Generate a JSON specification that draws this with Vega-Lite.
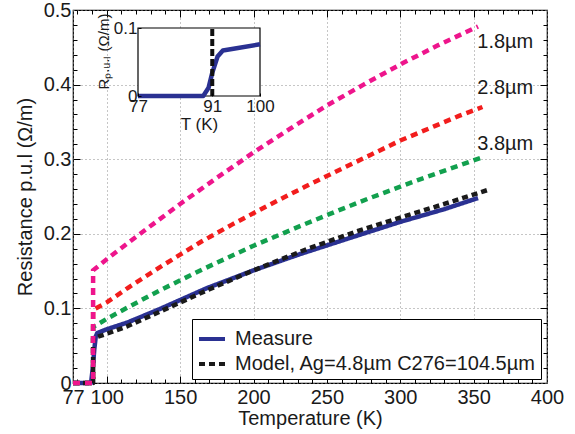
{
  "$schema": "https://vega.github.io/schema/vega-lite/v6.json",
  "width": 474,
  "height": 373,
  "autosize": {"type": "none"},
  "padding": {"left": 73, "top": 10, "right": 28, "bottom": 51},
  "background": "white",
  "config": {
    "font": "Liberation Sans",
    "view": {"stroke": "#000", "strokeWidth": 1.2},
    "axis": {
      "labelFont": "Liberation Sans",
      "titleFont": "Liberation Sans",
      "labelColor": "#1a1a1a",
      "titleColor": "#1a1a1a",
      "titleFontWeight": "normal",
      "labelFlush": false,
      "labelOverlap": false,
      "domain": false,
      "tickColor": "#000",
      "gridColor": "#8c8c8c",
      "gridDash": [1, 3]
    },
    "legend": {"labelFont": "Liberation Sans"}
  },
  "datasets": {
    "curves": [
      {"series": "Measure", "T": 77, "R": 0},
      {"series": "Measure", "T": 89.3, "R": 0},
      {"series": "Measure", "T": 90.5, "R": 0.02},
      {"series": "Measure", "T": 91.5, "R": 0.045},
      {"series": "Measure", "T": 92.5, "R": 0.062},
      {"series": "Measure", "T": 93.5, "R": 0.067},
      {"series": "Measure", "T": 100, "R": 0.072},
      {"series": "Measure", "T": 114, "R": 0.081},
      {"series": "Measure", "T": 136, "R": 0.099},
      {"series": "Measure", "T": 168, "R": 0.127},
      {"series": "Measure", "T": 200, "R": 0.151},
      {"series": "Measure", "T": 232, "R": 0.173},
      {"series": "Measure", "T": 265, "R": 0.194},
      {"series": "Measure", "T": 300, "R": 0.216},
      {"series": "Measure", "T": 330, "R": 0.233},
      {"series": "Measure", "T": 353, "R": 0.248},
      {"series": "Model, Ag=4.8µm C276=104.5µm", "T": 77, "R": 0},
      {"series": "Model, Ag=4.8µm C276=104.5µm", "T": 90.7, "R": 0},
      {"series": "Model, Ag=4.8µm C276=104.5µm", "T": 90.7, "R": 0.06},
      {"series": "Model, Ag=4.8µm C276=104.5µm", "T": 100, "R": 0.066},
      {"series": "Model, Ag=4.8µm C276=104.5µm", "T": 114, "R": 0.076},
      {"series": "Model, Ag=4.8µm C276=104.5µm", "T": 140, "R": 0.099},
      {"series": "Model, Ag=4.8µm C276=104.5µm", "T": 168, "R": 0.124},
      {"series": "Model, Ag=4.8µm C276=104.5µm", "T": 200, "R": 0.151},
      {"series": "Model, Ag=4.8µm C276=104.5µm", "T": 237, "R": 0.18},
      {"series": "Model, Ag=4.8µm C276=104.5µm", "T": 270, "R": 0.203},
      {"series": "Model, Ag=4.8µm C276=104.5µm", "T": 302, "R": 0.223},
      {"series": "Model, Ag=4.8µm C276=104.5µm", "T": 330, "R": 0.24},
      {"series": "Model, Ag=4.8µm C276=104.5µm", "T": 360, "R": 0.259},
      {"series": "1.8µm", "T": 77, "R": 0},
      {"series": "1.8µm", "T": 90.7, "R": 0},
      {"series": "1.8µm", "T": 90.7, "R": 0.151},
      {"series": "1.8µm", "T": 100, "R": 0.166},
      {"series": "1.8µm", "T": 110, "R": 0.181},
      {"series": "1.8µm", "T": 120, "R": 0.196},
      {"series": "1.8µm", "T": 135, "R": 0.218},
      {"series": "1.8µm", "T": 150, "R": 0.24},
      {"series": "1.8µm", "T": 175, "R": 0.275},
      {"series": "1.8µm", "T": 200, "R": 0.309},
      {"series": "1.8µm", "T": 225, "R": 0.341},
      {"series": "1.8µm", "T": 250, "R": 0.372},
      {"series": "1.8µm", "T": 275, "R": 0.4},
      {"series": "1.8µm", "T": 300, "R": 0.427},
      {"series": "1.8µm", "T": 325, "R": 0.452},
      {"series": "1.8µm", "T": 353, "R": 0.478},
      {"series": "2.8µm", "T": 77, "R": 0},
      {"series": "2.8µm", "T": 90.7, "R": 0},
      {"series": "2.8µm", "T": 90.7, "R": 0.098},
      {"series": "2.8µm", "T": 100, "R": 0.108},
      {"series": "2.8µm", "T": 114, "R": 0.127},
      {"series": "2.8µm", "T": 125, "R": 0.141},
      {"series": "2.8µm", "T": 136, "R": 0.155},
      {"series": "2.8µm", "T": 150, "R": 0.172},
      {"series": "2.8µm", "T": 164, "R": 0.189},
      {"series": "2.8µm", "T": 185, "R": 0.212},
      {"series": "2.8µm", "T": 210, "R": 0.238},
      {"series": "2.8µm", "T": 235, "R": 0.263},
      {"series": "2.8µm", "T": 260, "R": 0.287},
      {"series": "2.8µm", "T": 280, "R": 0.306},
      {"series": "2.8µm", "T": 300, "R": 0.325},
      {"series": "2.8µm", "T": 323, "R": 0.344},
      {"series": "2.8µm", "T": 340, "R": 0.358},
      {"series": "2.8µm", "T": 356, "R": 0.37},
      {"series": "3.8µm", "T": 77, "R": 0},
      {"series": "3.8µm", "T": 90.7, "R": 0},
      {"series": "3.8µm", "T": 90.7, "R": 0.075},
      {"series": "3.8µm", "T": 100, "R": 0.086},
      {"series": "3.8µm", "T": 114, "R": 0.101},
      {"series": "3.8µm", "T": 136, "R": 0.124},
      {"series": "3.8µm", "T": 166, "R": 0.153},
      {"series": "3.8µm", "T": 200, "R": 0.184},
      {"series": "3.8µm", "T": 235, "R": 0.213},
      {"series": "3.8µm", "T": 255, "R": 0.229},
      {"series": "3.8µm", "T": 278, "R": 0.247},
      {"series": "3.8µm", "T": 312, "R": 0.272},
      {"series": "3.8µm", "T": 335, "R": 0.288},
      {"series": "3.8µm", "T": 355, "R": 0.302}
    ],
    "labels": [
      {"label": "1.8µm", "T": 352.5, "R": 0.457},
      {"label": "2.8µm", "T": 352.5, "R": 0.396},
      {"label": "3.8µm", "T": 352.5, "R": 0.321}
    ],
    "inset": [
      {"T": 77, "R": 0},
      {"T": 89.3, "R": 0},
      {"T": 90.3, "R": 0.012},
      {"T": 91, "R": 0.034},
      {"T": 92, "R": 0.058},
      {"T": 93, "R": 0.067},
      {"T": 95, "R": 0.0695},
      {"T": 100, "R": 0.076}
    ],
    "tc": [{"Tc": 91}]
  },
  "layer": [
    {
      "resolve": {"axis": {"x": "independent", "y": "independent"}},
      "layer": [
        {
          "data": {"name": "curves"},
          "transform": [{"filter": {"field": "series", "equal": "2.8µm"}}],
          "mark": {"type": "line", "color": "#f21d1d", "strokeWidth": 4.5, "strokeDash": [7, 5]},
          "encoding": {
            "x": {"field": "T", "type": "quantitative", "scale": {"domain": [77, 400], "nice": false, "zero": false},
                  "axis": {"orient": "bottom", "values": [100, 150, 200, 250, 300, 350], "labels": false, "grid": false, "tickSize": -7, "title": null}},
            "y": {"field": "R", "type": "quantitative", "scale": {"domain": [0, 0.5], "nice": false},
                  "axis": {"orient": "left", "values": [0.1, 0.2, 0.3, 0.4], "labels": false, "grid": false, "tickSize": -7, "title": null}}
          }
        },
        {
          "data": {"name": "curves"},
          "transform": [{"filter": {"field": "series", "equal": "3.8µm"}}],
          "mark": {"type": "line", "color": "#12a04e", "strokeWidth": 4.5, "strokeDash": [7, 5]},
          "encoding": {
            "x": {"field": "T", "type": "quantitative",
                  "axis": {"orient": "top", "values": [80, 90, 100, 110, 120, 130, 140, 150, 160, 170, 180, 190, 200, 210, 220, 230, 240, 250, 260, 270, 280, 290, 300, 310, 320, 330, 340, 350, 360, 370, 380, 390], "labels": false, "grid": false, "tickSize": -4, "title": null}},
            "y": {"field": "R", "type": "quantitative",
                  "axis": {"orient": "right", "values": [0.02, 0.04, 0.06, 0.08, 0.1, 0.12, 0.14, 0.16, 0.18, 0.2, 0.22, 0.24, 0.26, 0.28, 0.3, 0.32, 0.34, 0.36, 0.38, 0.4, 0.42, 0.44, 0.46, 0.48], "labels": false, "grid": false, "tickSize": -4, "title": null}}
          }
        },
        {
          "data": {"name": "curves"},
          "transform": [{"filter": {"field": "series", "oneOf": ["Measure", "Model, Ag=4.8µm C276=104.5µm"]}}],
          "mark": {"type": "line", "strokeWidth": 4.5, "strokeJoin": "round"},
          "encoding": {
            "x": {"field": "T", "type": "quantitative",
                  "axis": {"orient": "bottom", "values": [77, 100, 150, 200, 250, 300, 350, 400], "format": "d", "grid": true, "ticks": false, "labelFontSize": 20, "labelPadding": 4, "title": "Temperature (K)", "titleFontSize": 20, "titlePadding": 1}},
            "y": {"field": "R", "type": "quantitative",
                  "axis": {"orient": "left", "values": [0, 0.1, 0.2, 0.3, 0.4, 0.5], "format": "~g", "grid": true, "ticks": false, "labelFontSize": 20, "labelPadding": 2, "title": "Resistance p.u.l (Ω/m)", "titleFontSize": 20, "titlePadding": 8}},
            "color": {"field": "series", "type": "nominal",
                      "scale": {"domain": ["Measure", "Model, Ag=4.8µm C276=104.5µm"], "range": ["#2a3192", "#1a1a1a"]},
                      "legend": {"orient": "none", "legendX": 119, "legendY": 309, "title": null, "direction": "vertical", "symbolType": "stroke", "symbolStrokeWidth": 4, "symbolSize": 676, "labelFontSize": 20, "labelColor": "#1a1a1a", "strokeColor": "#000", "fillColor": "#fff", "padding": 5, "rowPadding": 0, "labelOffset": 8, "labelLimit": 400}},
            "strokeDash": {"field": "series", "type": "nominal",
                      "scale": {"domain": ["Measure", "Model, Ag=4.8µm C276=104.5µm"], "range": [[1, 0], [6, 4]]},
                      "legend": {"orient": "none", "legendX": 119, "legendY": 309, "title": null, "direction": "vertical", "symbolType": "stroke", "symbolStrokeWidth": 4, "symbolSize": 676, "labelFontSize": 20, "labelColor": "#1a1a1a", "strokeColor": "#000", "fillColor": "#fff", "padding": 5, "rowPadding": 0, "labelOffset": 8, "labelLimit": 400}}
          }
        },
        {
          "data": {"name": "curves"},
          "transform": [{"filter": {"field": "series", "equal": "1.8µm"}}],
          "mark": {"type": "line", "color": "#ee158c", "strokeWidth": 4.5, "strokeDash": [7, 5]},
          "encoding": {
            "x": {"field": "T", "type": "quantitative",
                  "axis": {"orient": "bottom", "values": [80, 90, 110, 120, 130, 140, 160, 170, 180, 190, 210, 220, 230, 240, 260, 270, 280, 290, 310, 320, 330, 340, 360, 370, 380, 390], "labels": false, "grid": false, "tickSize": -4, "title": null}},
            "y": {"field": "R", "type": "quantitative",
                  "axis": {"orient": "left", "values": [0.02, 0.04, 0.06, 0.08, 0.12, 0.14, 0.16, 0.18, 0.22, 0.24, 0.26, 0.28, 0.32, 0.34, 0.36, 0.38, 0.42, 0.44, 0.46, 0.48], "labels": false, "grid": false, "tickSize": -4, "title": null}}
          }
        },
        {
          "data": {"name": "labels"},
          "mark": {"type": "text", "align": "left", "baseline": "middle", "fontSize": 20, "font": "Liberation Sans", "color": "#1a1a1a"},
          "encoding": {
            "x": {"field": "T", "type": "quantitative",
                  "axis": {"orient": "top", "values": [100, 150, 200, 250, 300, 350], "labels": false, "grid": false, "tickSize": -7, "title": null}},
            "y": {"field": "R", "type": "quantitative",
                  "axis": {"orient": "right", "values": [0.1, 0.2, 0.3, 0.4], "labels": false, "grid": false, "tickSize": -7, "title": null}},
            "text": {"field": "label"}
          }
        }
      ]
    },
    {
      "layer": [
        {
          "data": {"name": "tc"},
          "mark": {"type": "rect", "fill": "white", "stroke": "#000", "strokeWidth": 1.2},
          "encoding": {
            "x": {"datum": 77, "type": "quantitative", "title": "T (K)",
                  "scale": {"domain": [77, 100], "range": [65, 187], "nice": false, "zero": false},
                  "axis": {"orient": "bottom", "offset": -287, "values": [77, 91, 100], "format": "d", "grid": false, "tickSize": -3, "labelFontSize": 17, "labelPadding": 5, "titleFontSize": 17, "titlePadding": 2, "zindex": 1}},
            "x2": {"datum": 100},
            "y": {"datum": 0, "type": "quantitative", "title": "Rₚ.ᵤ.ₗ (Ω/m)",
                  "scale": {"domain": [0, 0.1], "range": [86, 18], "nice": false},
                  "axis": {"orient": "left", "offset": -65, "values": [0, 0.1], "format": "~g", "grid": false, "tickSize": -3, "labelFontSize": 17, "labelPadding": 4, "titleFontSize": 15, "titlePadding": 2, "titleY": 41, "zindex": 1}},
            "y2": {"datum": 0.1}
          }
        },
        {
          "data": {"name": "inset"},
          "mark": {"type": "line", "color": "#2a3192", "strokeWidth": 4.5, "strokeJoin": "round"},
          "encoding": {
            "x": {"field": "T", "type": "quantitative", "title": "T (K)"},
            "y": {"field": "R", "type": "quantitative", "title": "Rₚ.ᵤ.ₗ (Ω/m)"}
          }
        },
        {
          "data": {"name": "tc"},
          "mark": {"type": "rule", "color": "#111", "strokeWidth": 4, "strokeDash": [7, 3]},
          "encoding": {
            "x": {"field": "Tc", "type": "quantitative", "title": "T (K)"},
            "y": {"datum": 0, "type": "quantitative", "title": "Rₚ.ᵤ.ₗ (Ω/m)"},
            "y2": {"datum": 0.1}
          }
        }
      ]
    }
  ],
  "resolve": {"scale": {"x": "independent", "y": "independent"}}
}
